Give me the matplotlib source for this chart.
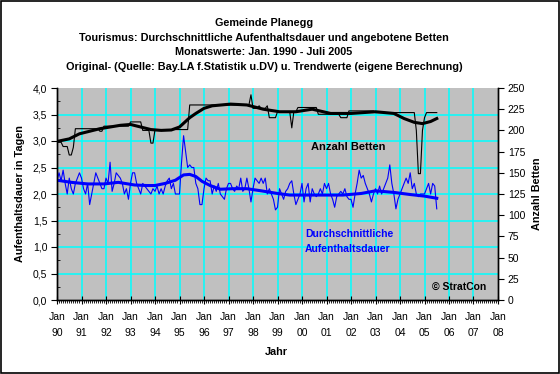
import numpy as np
import matplotlib
matplotlib.use("Agg")
from matplotlib import pyplot
from matplotlib.patches import Rectangle
from matplotlib.ticker import MultipleLocator

pyplot.rcParams["font.family"] = ["Liberation Sans", "DejaVu Sans"]

# monthly values Jan 1990 .. Jul 2005
dauer = [
    2.25, 2.4, 2.25, 2.45, 2.2, 2.0, 2.3, 2.1, 2.0, 2.2, 2.3, 2.4,      # 1990
    2.3, 2.1, 2.0, 2.2, 1.8, 2.0, 2.2, 2.4, 2.3, 2.2, 2.1, 2.1,        # 1991
    2.3, 2.2, 2.6, 2.05, 2.2, 2.4, 2.35, 2.3, 2.2, 2.0, 2.1, 1.9,      # 1992
    2.2, 2.4, 2.4, 2.2, 2.1, 2.0, 2.2, 2.15, 2.1, 2.05, 2.0, 2.1,      # 1993
    2.05, 2.15, 2.0, 2.1, 2.0, 2.15, 2.25, 2.3, 2.1, 2.2, 2.0, 2.0,    # 1994
    2.0, 2.6, 3.1, 2.8, 2.5, 2.55, 2.5, 2.5, 2.2, 2.1, 1.8, 1.8,       # 1995
    2.1, 2.3, 2.25, 2.25, 2.0, 2.15, 2.05, 2.2, 2.0, 1.95, 1.9, 2.1,   # 1996
    2.2, 2.2, 2.1, 2.05, 2.15, 2.1, 2.3, 2.05, 2.1, 2.3, 2.1, 1.85,    # 1997
    2.1, 2.3, 2.25, 2.2, 2.3, 2.2, 2.3, 2.0, 2.1, 2.0, 1.9, 1.7,       # 1998
    1.75, 2.1, 2.0, 1.9, 2.05, 2.1, 2.2, 2.25, 2.0, 1.8, 1.9, 2.0,     # 1999
    2.2, 1.85, 2.1, 2.2, 1.85, 2.1, 2.0, 1.95, 2.0, 2.1, 2.0, 2.2,     # 2000
    2.1, 2.2, 2.0, 1.9, 1.75, 1.95, 2.0, 2.05, 2.0, 2.1, 1.95, 1.9,    # 2001
    1.9, 1.75, 2.0, 2.2, 2.45, 2.3, 2.35, 2.2, 2.1, 2.0, 1.85, 2.0,    # 2002
    2.1, 2.0, 2.15, 2.0, 2.1, 2.2, 2.3, 2.55, 2.2, 2.0, 1.72, 1.9,     # 2003
    2.0, 2.1, 2.2, 2.3, 2.2, 2.4, 2.1, 2.2, 2.0, 1.95, 2.0, 2.0,       # 2004
    2.0, 2.1, 2.2, 2.0, 2.2, 2.15, 1.72,                               # 2005
]
betten = [
    186, 186, 186, 181, 181, 181, 171, 171, 180, 202, 202, 202,
    202, 202, 202, 202, 202, 202, 202, 202, 202, 199, 199, 205,
    205, 205, 205, 205, 205, 205, 205, 205, 205, 205, 205, 205,
    210, 210, 210, 210, 210, 210, 200, 200, 200, 200, 185, 185,
    201, 201, 201, 201, 201, 201, 201, 201, 201, 201, 201, 201,
    201, 201, 201, 201, 201, 230, 230, 230, 230, 230, 230, 230,
    230, 230, 230, 230, 230, 230, 230, 230, 230, 230, 230, 230,
    230, 230, 230, 230, 230, 230, 230, 230, 230, 230, 230, 242,
    226, 226, 226, 229, 226, 226, 226, 229, 215, 215, 215, 215,
    222, 222, 222, 222, 222, 222, 222, 203, 222, 222, 227, 227,
    227, 227, 227, 227, 227, 227, 227, 227, 219, 219, 219, 219,
    219, 219, 219, 219, 219, 219, 219, 215, 215, 215, 215, 223,
    223, 223, 223, 223, 223, 223, 223, 223, 223, 223, 223, 223,
    221, 221, 221, 221, 221, 221, 221, 221, 221, 221, 221, 221,
    221, 221, 221, 221, 221, 221, 221, 221, 200, 149, 149, 200,
    215, 221, 221, 221, 221, 221, 221,
]

# trend values (month index since Jan 1990, value)
betten_trend_m = [0, 6, 11, 16, 21, 26, 31, 36, 41, 46, 51, 56, 60, 65, 68, 72, 76, 85,
                  93, 101, 109, 117, 125, 134, 144, 156, 165, 170, 175, 179, 183, 186]
betten_trend = [187, 190, 196, 199, 202, 204, 206, 207, 204, 201, 200, 200.5, 204, 215, 220, 226, 229, 231,
                230, 225, 222, 222, 225, 220, 220, 222, 220, 214, 209.5, 208, 210.5, 214]
dauer_trend_m = [0, 7, 15, 23, 30, 38, 44, 48, 53, 58, 62, 65, 68, 71, 75, 80, 86, 93,
                 100, 108, 114, 124, 140, 149, 156, 165, 173, 180, 186]
dauer_trend = [2.26, 2.22, 2.19, 2.19, 2.22, 2.17, 2.16, 2.16, 2.2, 2.26, 2.36, 2.37, 2.33, 2.24, 2.16, 2.09, 2.1, 2.1,
               2.06, 2.01, 1.98, 1.98, 1.98, 2.01, 2.06, 2.03, 1.99, 1.96, 1.92]

years = list(range(90, 100)) + list(range(0, 9))
x_labels = ["Jan\n{0:02d}".format(y) for y in years]
left_ticks = [0.0, 0.5, 1.0, 1.5, 2.0, 2.5, 3.0, 3.5, 4.0]
left_labels = ["0,0", "0,5", "1,0", "1,5", "2,0", "2,5", "3,0", "3,5", "4,0"]
right_ticks = list(range(0, 251, 25))

title = ["Gemeinde Planegg",
         "Tourismus: Durchschnittliche Aufenthaltsdauer und angebotene Betten",
         "Monatswerte: Jan. 1990 - Juli 2005",
         "Original- (Quelle: Bay.LA f.Statistik u.DV) u. Trendwerte (eigene Berechnung)"]

W, H = 560, 374
fig = pyplot.figure(figsize=(W/100, H/100), dpi=100)
fig.patch.set_facecolor("white")
fig.patches.append(Rectangle((0.001, 0.002), 0.997, 0.996, transform=fig.transFigure,
                             fill=False, ec="black", lw=1.2))

x0, x1, ytop, ybot = 57, 498, 88, 300
ax = fig.add_axes([x0/W, 1 - ybot/H, (x1 - x0)/W, (ybot - ytop)/H])
ax.set_facecolor("#c0c0c0")
ax2 = ax.twinx()

months = np.arange(len(dauer))
ax.set_xlim(0, 216)
ax.set_ylim(0, 4)
ax2.set_ylim(0, 250)

for yv in left_ticks[1:-1]:
    ax.axhline(yv, color="#00ffff", lw=1.1, zorder=1)
for xm in range(12, 216, 12):
    ax.axvline(xm, color="#00ffff", lw=1.1, zorder=1)

ax.plot(months, dauer, color="#0000ff", lw=0.8, zorder=3)
ax.plot(dauer_trend_m, dauer_trend, color="#0000ff", lw=2.2, zorder=4)
ax2.plot(months, betten, color="black", lw=0.8, zorder=3)
ax2.plot(betten_trend_m, betten_trend, color="black", lw=2.2, zorder=4)

for a in (ax, ax2):
    a.spines["top"].set_visible(False)
    for s in a.spines.values():
        s.set_linewidth(1.0)

ax.set_xticks(range(0, 217, 12))
ax.set_xticklabels(x_labels, fontsize=7.5, linespacing=1.65)
ax.xaxis.set_minor_locator(MultipleLocator(1))
ax.tick_params(axis="x", which="major", direction="inout", length=6, pad=6)
ax.tick_params(axis="x", which="minor", direction="out", length=2)
ax.set_yticks(left_ticks)
ax.set_yticklabels(left_labels, fontsize=7.5)
ax.yaxis.set_minor_locator(MultipleLocator(0.25))
ax.tick_params(axis="y", which="major", direction="out", length=4, pad=3)
ax.tick_params(axis="y", which="minor", direction="in", length=2)
ax2.set_yticks(right_ticks)
ax2.set_yticklabels([str(t) for t in right_ticks], fontsize=7.5)
ax2.tick_params(axis="y", direction="out", length=4, pad=3)

for i, line in enumerate(title):
    fig.text(264/W, 1 - (23 + 14.7*i)/H, line, ha="center", va="center",
             fontsize=7.8, fontweight="bold")

fig.text(20/W, 1 - 194/H, "Aufenthaltsdauer in Tagen", rotation=90, ha="center", va="center",
         fontsize=7.8, fontweight="bold")
fig.text(537/W, 1 - 194/H, "Anzahl Betten", rotation=90, ha="center", va="center",
         fontsize=7.8, fontweight="bold")
fig.text(276/W, 1 - 352/H, "Jahr", ha="center", va="center", fontsize=7.8, fontweight="bold")

fig.text(311/W, 1 - 147/H, "Anzahl Betten", ha="left", va="center", fontsize=8, fontweight="bold")
fig.text(305/W, 1 - 234/H, "Durchschnittliche", ha="left", va="center", fontsize=7.5,
         fontweight="bold", color="#0000ff")
fig.text(305/W, 1 - 249/H, "Aufenthaltsdauer", ha="left", va="center", fontsize=7.5,
         fontweight="bold", color="#0000ff")
fig.text(432/W, 1 - 287/H, "\u00a9 StratCon", ha="left", va="center", fontsize=7.5, fontweight="bold")

fig.savefig("out.png", dpi=100)
